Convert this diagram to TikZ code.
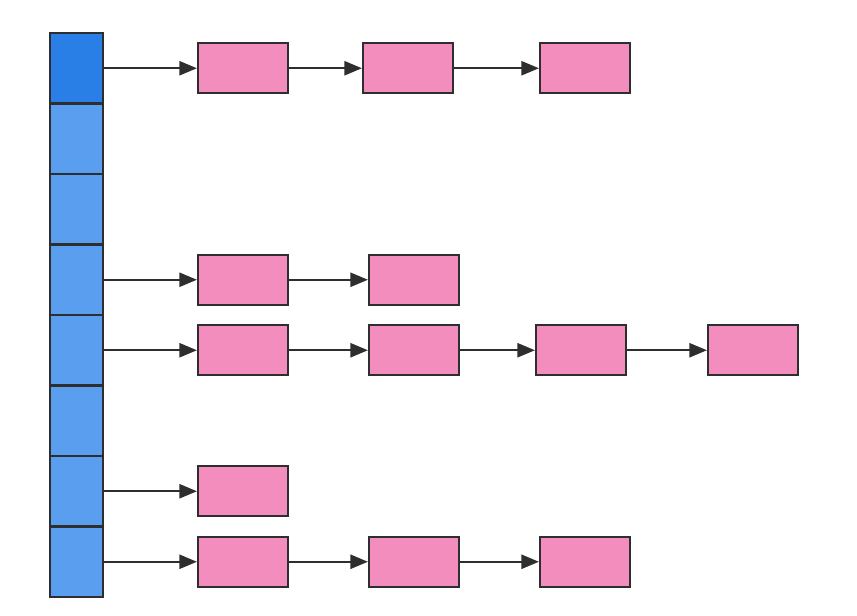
\documentclass[tikz,border=0pt]{standalone}
\usepackage{tikz}
\usetikzlibrary{arrows.meta, positioning}
\definecolor{headbg}{HTML}{2A7FE6}
\definecolor{slotbg}{HTML}{5A9FEF}
\definecolor{entrybg}{HTML}{F38DBE}
\definecolor{edge}{HTML}{2E2E2E}

\begin{document}
\begin{tikzpicture}[x=0.02cm, y=-0.02cm,
    slot/.style={rectangle, draw=edge, line width=1.4pt, fill=slotbg, minimum width=1.06cm, minimum height=1.41cm, inner sep=0pt},
    entry/.style={rectangle, draw=edge, line width=1.2pt, fill=entrybg, minimum width=1.8cm, minimum height=1cm, inner sep=0pt},
    arrow/.style={-{Triangle[length=10pt, width=8pt]}, line width=1.3pt, draw=edge}
]
\useasboundingbox (0,0) rectangle (857,615);

% bucket array
\foreach \i in {0,...,7}
  \node[slot] (s\i) at (76.5, {68.25+70.5*\i}) {};
\node[slot, fill=headbg] (s0) at (76.5, 68.25) {};

% chains
\node[entry] (a1) at (243, 68.25) {};
\node[entry] (a2) at (408, 68.25) {};
\node[entry] (a3) at (585, 68.25) {};

\node[entry] (d1) at (243, 279.75) {};
\node[entry] (d2) at (414, 279.75) {};

\node[entry] (e1) at (243, 350.25) {};
\node[entry] (e2) at (414, 350.25) {};
\node[entry] (e3) at (581, 350.25) {};
\node[entry] (e4) at (753, 350.25) {};

\node[entry] (g1) at (243, 491.25) {};

\node[entry] (h1) at (243, 561.75) {};
\node[entry] (h2) at (414, 561.75) {};
\node[entry] (h3) at (585, 561.75) {};

\draw[arrow] (s0) -- (a1);
\draw[arrow] (a1) -- (a2);
\draw[arrow] (a2) -- (a3);

\draw[arrow] (s3) -- (d1);
\draw[arrow] (d1) -- (d2);

\draw[arrow] (s4) -- (e1);
\draw[arrow] (e1) -- (e2);
\draw[arrow] (e2) -- (e3);
\draw[arrow] (e3) -- (e4);

\draw[arrow] (s6) -- (g1);

\draw[arrow] (s7) -- (h1);
\draw[arrow] (h1) -- (h2);
\draw[arrow] (h2) -- (h3);

\end{tikzpicture}
\end{document}
